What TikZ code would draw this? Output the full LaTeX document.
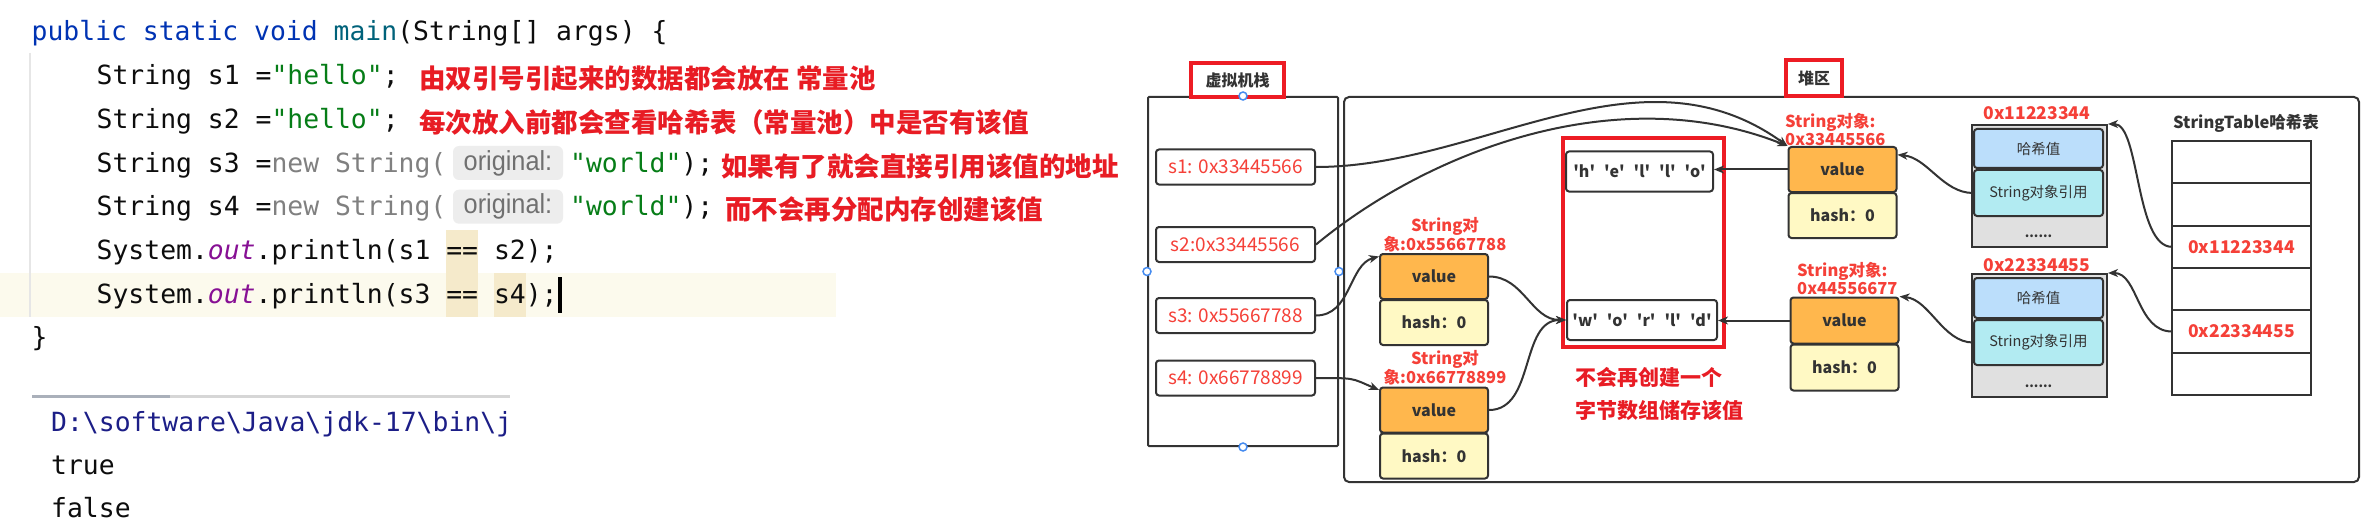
\documentclass[tikz,border=0pt]{standalone}
\usepackage{fontspec}
\usepackage{xcolor}
\usetikzlibrary{positioning,arrows.meta}
\newfontfamily\codefont{DejaVu Sans Mono}
\newfontfamily\cjkfont{Noto Sans CJK SC}
\newfontfamily\hintfont{Liberation Sans}[FakeStretch=0.92]

\definecolor{kwblue}{RGB}{0,51,179}
\definecolor{fnteal}{RGB}{0,98,122}
\definecolor{strgreen}{RGB}{6,125,23}
\definecolor{dimtext}{RGB}{128,128,128}
\definecolor{hinttext}{RGB}{112,112,112}
\definecolor{fieldpurple}{RGB}{135,16,148}
\definecolor{pathblue}{RGB}{28,30,135}
\definecolor{noteRed}{RGB}{232,28,36}
\definecolor{frameRed}{RGB}{237,28,36}
\definecolor{addrRed}{RGB}{245,64,56}
\definecolor{lineGray}{RGB}{51,51,51}
\definecolor{valOrange}{RGB}{255,183,77}
\definecolor{hashYellow}{RGB}{255,249,196}
\definecolor{hashBlue}{RGB}{187,222,251}
\definecolor{refCyan}{RGB}{178,235,242}
\definecolor{entryGray}{RGB}{224,224,224}
\definecolor{lineHl}{RGB}{252,250,237}
\definecolor{wordHl}{RGB}{245,234,203}
\definecolor{hintBg}{RGB}{237,237,237}
\definecolor{handleBlue}{RGB}{70,140,240}
\definecolor{guideGray}{RGB}{230,230,230}
\definecolor{sepGray}{RGB}{214,214,214}
\definecolor{sepDark}{RGB}{170,176,186}

\tikzset{
  codeline/.style={anchor=base west, inner sep=0pt, text=black!95,
    font=\codefont\fontsize{26.4}{30}\selectfont},
  redNote/.style={anchor=base west, inner sep=0pt, text=noteRed,
    font=\cjkfont\bfseries\fontsize{26.5}{30}\selectfont},
  inlayhint/.style={fill=hintBg, rounded corners=6pt, minimum width=110pt,
    minimum height=34pt, inner sep=0pt, text=hinttext,
    font=\hintfont\fontsize{27.5}{29}\selectfont},
  redframe/.style={draw=frameRed, line width=4pt, inner sep=0pt},
  areatitle/.style={text=lineGray, inner sep=0pt,
    font=\cjkfont\bfseries\fontsize{16}{18}\selectfont},
  sbox/.style={draw=lineGray, line width=2pt, rounded corners=3pt,
    minimum width=159pt, minimum height=35pt, inner sep=0pt, text=addrRed,
    font=\cjkfont\fontsize{19}{22}\selectfont},
  valbox/.style={draw=lineGray, line width=2pt, rounded corners=3pt,
    fill=valOrange, minimum width=108pt, minimum height=45pt, inner sep=0pt,
    text=lineGray, font=\cjkfont\bfseries\fontsize{16}{18}\selectfont},
  hashbox/.style={valbox, fill=hashYellow},
  charbox/.style={draw=lineGray, line width=2pt, rounded corners=3pt,
    fill=white, minimum height=40pt, inner sep=0pt, text=lineGray,
    font=\cjkfont\bfseries\fontsize{16}{18}\selectfont},
  objlabel/.style={inner sep=0pt, text=addrRed,
    font=\cjkfont\bfseries\fontsize{16.5}{18}\selectfont},
  entrybox/.style={draw=lineGray, line width=2pt, fill=entryGray,
    minimum width=135pt, inner sep=0pt},
  hashcell/.style={draw=lineGray, line width=2pt, rounded corners=3pt,
    fill=hashBlue, minimum width=129pt, inner sep=0pt, text=lineGray,
    font=\cjkfont\fontsize{14.5}{16}\selectfont},
  refcell/.style={hashcell, fill=refCyan},
  tabrow/.style={draw=lineGray, line width=2pt, minimum width=139pt,
    minimum height=42.33pt, inner sep=0pt, outer sep=0pt, text=addrRed,
    font=\cjkfont\bfseries\fontsize{17.5}{19}\selectfont},
  link/.style={draw=lineGray, line width=2pt,
    -{Stealth[length=10pt,width=8pt,inset=3pt]}},
  selhandle/.style={circle, draw=handleBlue, fill=white, line width=1.5pt,
    minimum size=8pt, inner sep=0pt}
}

\begin{document}
\begin{tikzpicture}[x=1pt,y=-1pt]
    \fill[white] (0,0) rectangle (2370,532);
    \useasboundingbox (0,0) rectangle (2370,532);

    % Editor
    \fill[lineHl] (0,273) rectangle (836,317);
    \fill[wordHl] (446,230) rectangle (478,273);
    \fill[wordHl] (446,273) rectangle (478,317);
    \fill[wordHl] (494,273) rectangle (526,317);
    \draw[guideGray, line width=1.5pt] (30,53) -- (30,317);
    \node[codeline] (l1) at (31.5,41) {\textcolor{kwblue}{public static void} \textcolor{fnteal}{main}(String[] args) \{};
    \node[codeline] (l2) at (96.5,84.7) {String s1 =\textcolor{strgreen}{"hello"};};
    \node[codeline] (l3) at (96.5,128.4) {String s2 =\textcolor{strgreen}{"hello"};};
    \node[codeline] (l4) at (96.5,172.1) {String s3 =\textcolor{dimtext}{new String(}};
    \node[inlayhint] (hint4) at (508,163) {original:};
    \node[codeline] (w4) at (570,172.1) {\textcolor{strgreen}{"world"});};
    \node[codeline] (l5) at (96.5,215.8) {String s4 =\textcolor{dimtext}{new String(}};
    \node[inlayhint] (hint5) at (508,206.7) {original:};
    \node[codeline] (w5) at (570,215.8) {\textcolor{strgreen}{"world"});};
    \node[codeline] (l6) at (96.5,259.5) {System.\textcolor{fieldpurple}{\itshape out}.println(s1 == s2);};
    \node[codeline] (l7) at (96.5,303.2) {System.\textcolor{fieldpurple}{\itshape out}.println(s3 == s4);};
    \fill[black] (558,277) rectangle (561.5,313);
    \node[codeline] (l8) at (31.5,346.9) {\}};

    % Notes
    \node[redNote] (n1) at (419,88.7) {由双引号引起来的数据都会放在 常量池};
    \node[redNote] (n2) at (419,132.4) {每次放入前都会查看哈希表（常量池）中是否有该值};
    \node[redNote] (n3) at (721,176.1) {如果有了就会直接引用该值的地址};
    \node[redNote] (n4) at (725,219.8) {而不会再分配内存创建该值};

    % Console
    \draw[sepGray, line width=3pt] (32,396) -- (510,396);
    \draw[sepDark, line width=3pt] (32,396) -- (170,396);
    \node[codeline, text=pathblue] (o1) at (51,431) {D:\textbackslash software\textbackslash Java\textbackslash jdk-17\textbackslash bin\textbackslash j};
    \node[codeline] (o2) at (51,474) {true};
    \node[codeline] (o3) at (51,517) {false};

    % Stack
    \node[draw=lineGray, line width=2pt, rounded corners=1pt, minimum width=190pt, minimum height=349pt] (stack) at (1243,271.5) {};
    \node[redframe, areatitle, minimum width=93pt, minimum height=34pt] (stacktitle) at (1237.5,80) {虚拟机栈};
    \node[sbox] (s1) at (1235.5,167) {s1: 0x33445566};
    \node[sbox] (s2) at (1235.5,244.5) {s2:0x33445566};
    \node[sbox] (s3) at (1235.5,315.5) {s3: 0x55667788};
    \node[sbox] (s4) at (1235.5,378) {s4: 0x66778899};
    \node[selhandle] (hn) at (stack.north) {};
    \node[selhandle] (hw) at (stack.west) {};
    \node[selhandle] (he) at (stack.east) {};
    \node[selhandle] (hs) at (stack.south) {};

    % Heap
    \node[draw=lineGray, line width=2pt, rounded corners=5pt, minimum width=1015pt, minimum height=385pt] (heap) at (1851.5,289.5) {};
    \node[redframe, areatitle, minimum width=56pt, minimum height=36pt] (heaptitle) at (1814,78) {堆区};

    % Char arrays
    \node[charbox, minimum width=147pt] (hello) at (1639.5,171.5) {'h'\hspace{9pt}'e'\hspace{9pt}'l'\hspace{9pt}'l'\hspace{9pt}'o'};
    \node[charbox, minimum width=150pt] (world) at (1642,320) {'w'\hspace{9pt}'o'\hspace{9pt}'r'\hspace{9pt}'l'\hspace{9pt}'d'};
    \node[redframe, minimum width=161pt, minimum height=209pt] (charframe) at (1643.5,242.5) {};
    \node[redNote, anchor=west, align=left, font=\cjkfont\bfseries\fontsize{21}{33}\selectfont] (n5) at (1575,393.5) {不会再创建一个\\字节数组储存该值};

    % String objects
    \node[objlabel, align=left, anchor=west] (lab1) at (1785,130) {String对象:\\0x33445566};
    \node[valbox] (val1) at (1842.5,169.5) {value};
    \node[hashbox, below=-1pt of val1] (hash1) {hash：0};
    \node[objlabel, align=center] (lab2) at (1445,235) {String对\\象:0x55667788};
    \node[valbox] (val2) at (1434,276.5) {value};
    \node[hashbox, below=-1pt of val2] (hash2) {hash：0};
    \node[objlabel, align=center] (lab3) at (1445,368) {String对\\象:0x66778899};
    \node[valbox] (val3) at (1434,410) {value};
    \node[hashbox, below=-1pt of val3] (hash3) {hash：0};
    \node[objlabel, align=left, anchor=west] (lab4) at (1797,278.5) {String对象:\\0x44556677};
    \node[valbox, minimum height=46pt] (val4) at (1844.5,320.5) {value};
    \node[hashbox, minimum height=46pt, below=-1pt of val4] (hash4) {hash：0};

    % Hash entries
    \node[objlabel, font=\cjkfont\bfseries\fontsize{17.5}{19}\selectfont] (lab5) at (2037,113) {0x11223344};
    \node[entrybox, minimum height=122pt] (e1) at (2039.5,186) {};
    \node[hashcell, minimum height=39pt] (hv1) at (2038.5,148.5) {哈希值};
    \node[refcell, minimum height=46pt] (ref1) at (2038.5,193) {String对象引用};
    \node[text=lineGray, inner sep=0pt, font=\cjkfont\bfseries\fontsize{13}{14}\selectfont] (dots1) at (2038.5,236) {......};
    \node[objlabel, font=\cjkfont\bfseries\fontsize{17.5}{19}\selectfont] (lab6) at (2037,265) {0x22334455};
    \node[entrybox, minimum height=123pt] (e2) at (2039.5,335.5) {};
    \node[hashcell, minimum height=40pt] (hv2) at (2038.5,298) {哈希值};
    \node[refcell, minimum height=45pt] (ref2) at (2038.5,342.5) {String对象引用};
    \node[text=lineGray, inner sep=0pt, font=\cjkfont\bfseries\fontsize{13}{14}\selectfont] (dots2) at (2038.5,386) {......};

    % StringTable
    \node[areatitle, font=\cjkfont\bfseries\fontsize{16.5}{18}\selectfont] (tabtitle) at (2246,123) {StringTable哈希表};
    \node[tabrow] (r1) at (2241.5,162.2) {};
    \foreach \i/\j/\txt in {2/1/{},3/2/0x11223344,4/3/{},5/4/0x22334455,6/5/{}}
        \node[tabrow, below=0pt of r\j] (r\i) {\txt};

    % Links
    \draw[link] (s1.east) .. controls +(165,0) and +(-148,-107) .. (val1.north west);
    \draw[link] (s2.east) .. controls +(115,-95) and +(-168,-67) .. (val1.north west);
    \draw[link] (s3.east) .. controls +(35,0) and +(-30,8) .. (val2.160);
    \draw[link] (s4.east) .. controls +(40,0) and +(-28,-12) .. (val3.160);
    \draw[link] (val2.east) to[out=0,in=180] (world.west);
    \draw[link] (val3.east) to[out=0,in=180] (world.west);
    \draw[link] (val1.west) -- (val1.west -| hello.east);
    \draw[link] (val4.west) -- (val4.west -| world.east);
    \draw[link] (ref1.west) .. controls +(-30,0) and +(30,3) .. (val1.15);
    \draw[link] (ref2.west) .. controls +(-30,0) and +(30,3) .. (val4.north east);
    \draw[link] (r3.west) .. controls +(-37,0) and +(32,0) .. (e1.north east);
    \draw[link] (r5.west) .. controls +(-35,0) and +(30,0) .. (e2.north east);
\end{tikzpicture}
\end{document}
